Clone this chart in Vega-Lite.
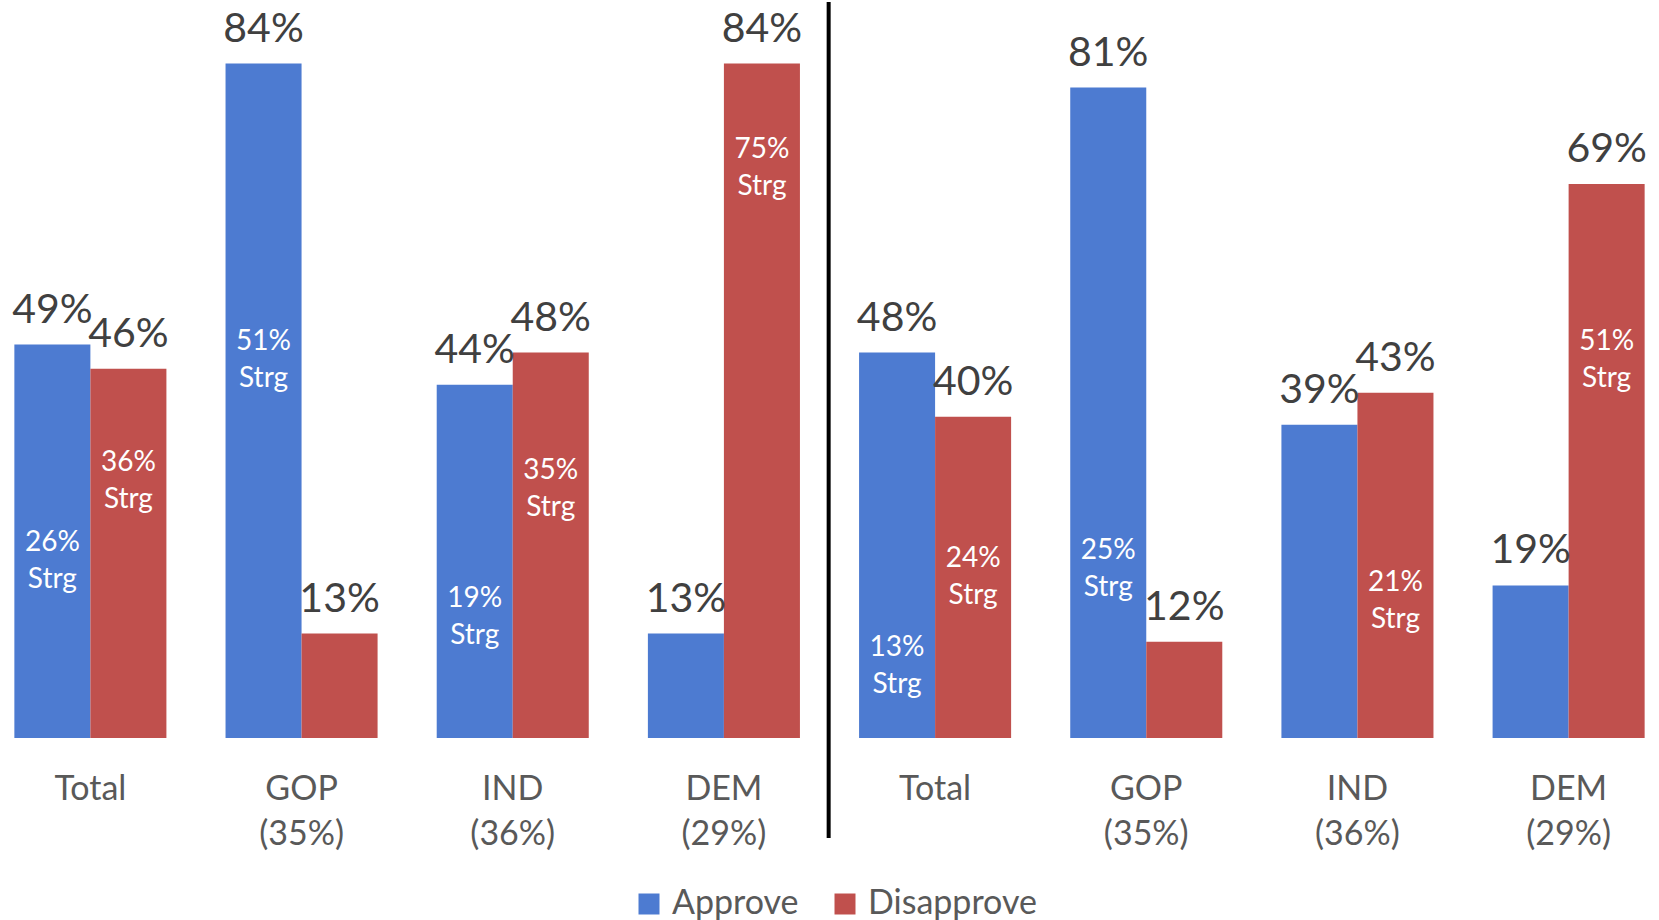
{
  "$schema": "https://vega.github.io/schema/vega-lite/v6.json",
  "width": 1659,
  "height": 736,
  "padding": 0,
  "autosize": {"type": "pad"},
  "background": "white",
  "config": {"view": {"stroke": null}, "font": "Lato", "text": {"font": "Lato"}},
  "data": {
    "values": [
      {"slot": "L Total", "group": "Approve", "value": 0.49, "strong": 0.26},
      {"slot": "L Total", "group": "Disapprove", "value": 0.46, "strong": 0.36},
      {"slot": "L GOP (35%)", "group": "Approve", "value": 0.84, "strong": 0.51},
      {"slot": "L GOP (35%)", "group": "Disapprove", "value": 0.13, "strong": null},
      {"slot": "L IND (36%)", "group": "Approve", "value": 0.44, "strong": 0.19},
      {"slot": "L IND (36%)", "group": "Disapprove", "value": 0.48, "strong": 0.35},
      {"slot": "L DEM (29%)", "group": "Approve", "value": 0.13, "strong": null},
      {"slot": "L DEM (29%)", "group": "Disapprove", "value": 0.84, "strong": 0.75},
      {"slot": "R Total", "group": "Approve", "value": 0.48, "strong": 0.13},
      {"slot": "R Total", "group": "Disapprove", "value": 0.40, "strong": 0.24},
      {"slot": "R GOP (35%)", "group": "Approve", "value": 0.81, "strong": 0.25},
      {"slot": "R GOP (35%)", "group": "Disapprove", "value": 0.12, "strong": null},
      {"slot": "R IND (36%)", "group": "Approve", "value": 0.39, "strong": null},
      {"slot": "R IND (36%)", "group": "Disapprove", "value": 0.43, "strong": 0.21},
      {"slot": "R DEM (29%)", "group": "Approve", "value": 0.19, "strong": null},
      {"slot": "R DEM (29%)", "group": "Disapprove", "value": 0.69, "strong": 0.51}
    ]
  },
  "encoding": {
    "x": {
      "field": "slot",
      "type": "nominal",
      "sort": ["L Total", "L GOP (35%)", "L IND (36%)", "L DEM (29%)", "R Total", "R GOP (35%)", "R IND (36%)", "R DEM (29%)"],
      "scale": {"paddingInner": 0.28, "paddingOuter": 0.068},
      "axis": {
        "title": null,
        "domain": false,
        "ticks": false,
        "labelAngle": 0,
        "labelFontSize": 34,
        "labelColor": "#595959",
        "labelLineHeight": 45,
        "labelPadding": 34,
        "labelExpr": "split(slice(datum.label, 2), ' ')"
      }
    }
  },
  "layer": [
    {
      "mark": {"type": "bar"},
      "encoding": {
        "xOffset": {"field": "group", "type": "nominal", "scale": {"paddingInner": 0}},
        "y": {"field": "value", "type": "quantitative", "scale": {"domain": [0, 0.9166], "nice": false, "zero": true}, "axis": null},
        "color": {
          "field": "group",
          "type": "nominal",
          "scale": {"domain": ["Approve", "Disapprove"], "range": ["#4D7BD1", "#C0504D"]},
          "legend": {
            "title": null,
            "orient": "none",
            "legendX": 632,
            "legendY": 885,
            "direction": "horizontal",
            "symbolType": "square",
            "symbolSize": 441,
            "symbolStrokeWidth": 0,
            "labelFontSize": 34,
            "labelColor": "#595959",
            "labelOffset": 6,
            "labelLimit": 400,
            "columnPadding": 29
          }
        }
      }
    },
    {
      "mark": {"type": "text", "baseline": "alphabetic", "dy": -22, "fontSize": 41, "color": "#404040"},
      "encoding": {
        "xOffset": {"field": "group", "type": "nominal"},
        "y": {"field": "value", "type": "quantitative"},
        "text": {"field": "value", "type": "quantitative", "format": ".0%"}
      }
    },
    {
      "transform": [{"filter": "datum.strong != null"}],
      "mark": {"type": "text", "baseline": "top", "fontSize": 28, "color": "white"},
      "encoding": {
        "xOffset": {"field": "group", "type": "nominal"},
        "y": {"field": "strong", "type": "quantitative"},
        "text": {"field": "strong", "type": "quantitative", "format": ".0%"}
      }
    },
    {
      "transform": [{"filter": "datum.strong != null"}],
      "mark": {"type": "text", "baseline": "top", "fontSize": 28, "color": "white", "dy": 37},
      "encoding": {
        "xOffset": {"field": "group", "type": "nominal"},
        "y": {"field": "strong", "type": "quantitative"},
        "text": {"value": "Strg"}
      }
    },
    {
      "data": {"values": [{"slot": "R Total"}]},
      "mark": {"type": "rule", "color": "black", "strokeWidth": 4},
      "encoding": {
        "x": {
          "field": "slot",
          "type": "nominal",
          "sort": ["L Total", "L GOP (35%)", "L IND (36%)", "L DEM (29%)", "R Total", "R GOP (35%)", "R IND (36%)", "R DEM (29%)"],
          "bandPosition": -0.2
        },
        "y": {"datum": 0.9166, "type": "quantitative"},
        "y2": {"datum": -0.1245}
      }
    }
  ]
}
